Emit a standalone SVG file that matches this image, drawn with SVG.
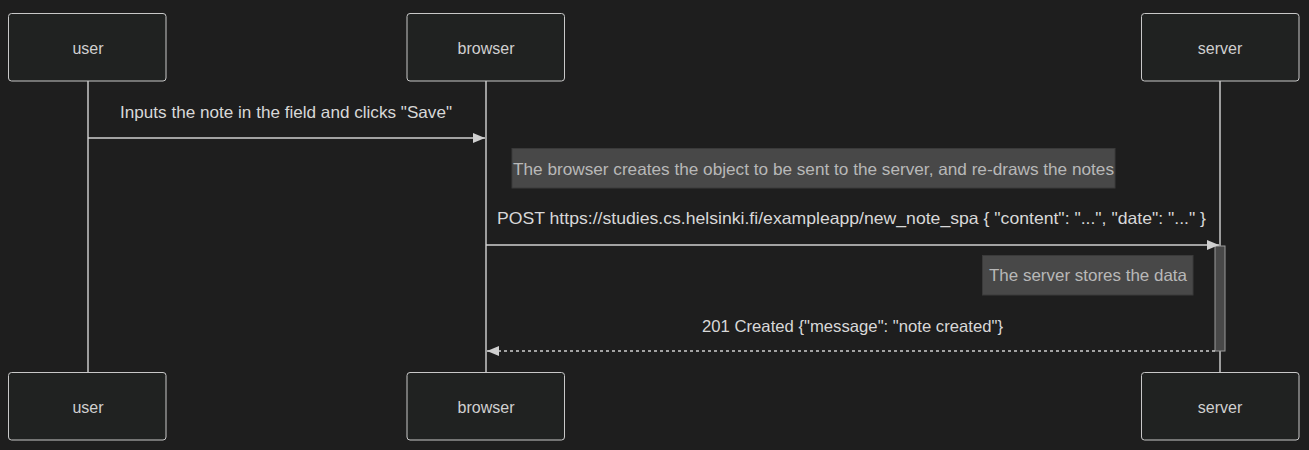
<svg xmlns="http://www.w3.org/2000/svg" width="1309" height="450" viewBox="0 0 1309 450">
<defs>
<style>
.actor{fill:#202221;stroke:#c8c8c8;stroke-width:1}
.atext{fill:#d0d0d0;font-family:"Liberation Sans",Arial,sans-serif;font-size:16px;text-anchor:middle;dominant-baseline:central}
.life{stroke:#c8c8c8;stroke-width:1.5}
.msg{stroke:#d0d0d0;stroke-width:1.5;fill:none}
.mtext{fill:#d8d8d8;font-family:"Liberation Sans",Arial,sans-serif;font-size:16.5px;text-anchor:middle}
.note{fill:#484848;stroke:#3a3a3a;stroke-width:1}
.ntext{fill:#b8b8b8;font-family:"Liberation Sans",Arial,sans-serif;font-size:16.5px;text-anchor:middle;dominant-baseline:central}
</style>
<marker id="arrow" viewBox="0 0 12 10" refX="12" refY="5" markerWidth="12" markerHeight="10" markerUnits="userSpaceOnUse" orient="auto"><path d="M0,0 L12,5 L0,10 z" fill="#d0d0d0"/></marker>
</defs>
<rect width="1309" height="450" fill="#1e1e1e"/>
<g id="lifelines">
<line class="life" x1="88" y1="81" x2="88" y2="372"/>
<line class="life" x1="486" y1="81" x2="486" y2="372"/>
<line class="life" x1="1220" y1="81" x2="1220" y2="372"/>
</g>
<g id="actor-user-top"><rect class="actor" x="8.5" y="13.5" width="157.5" height="67.5" rx="3"/><text class="atext" x="88" y="48">user</text></g>
<g id="actor-browser-top"><rect class="actor" x="407" y="13.5" width="157.5" height="67.5" rx="3"/><text class="atext" x="486" y="48">browser</text></g>
<g id="actor-server-top"><rect class="actor" x="1141.5" y="13.5" width="157.5" height="67.5" rx="3"/><text class="atext" x="1220" y="48">server</text></g>
<g id="actor-user-bottom"><rect class="actor" x="8.5" y="372.5" width="157.5" height="67.5" rx="3"/><text class="atext" x="88" y="407">user</text></g>
<g id="actor-browser-bottom"><rect class="actor" x="407" y="372.5" width="157.5" height="67.5" rx="3"/><text class="atext" x="486" y="407">browser</text></g>
<g id="actor-server-bottom"><rect class="actor" x="1141.5" y="372.5" width="157.5" height="67.5" rx="3"/><text class="atext" x="1220" y="407">server</text></g>
<g id="activation"><rect x="1215" y="246" width="10" height="105" fill="#484848" stroke="#999" stroke-width="1"/></g>
<g id="note-browser"><rect class="note" x="512" y="148.5" width="603" height="39.5"/><text class="ntext" x="813.5" y="169" textLength="601" lengthAdjust="spacingAndGlyphs">The browser creates the object to be sent to the server, and re-draws the notes</text></g>
<g id="note-server"><rect class="note" x="982.5" y="255.5" width="210.5" height="39.5"/><text class="ntext" x="1088" y="275" textLength="198" lengthAdjust="spacingAndGlyphs">The server stores the data</text></g>
<g id="connectors">
<line class="msg" x1="88" y1="138" x2="485" y2="138" marker-end="url(#arrow)"/>
<text class="mtext" x="286" y="118" textLength="332" lengthAdjust="spacingAndGlyphs">Inputs the note in the field and clicks "Save"</text>
<line class="msg" x1="486" y1="245" x2="1219" y2="245" marker-end="url(#arrow)"/>
<text class="mtext" x="851.5" y="224" textLength="709" lengthAdjust="spacingAndGlyphs">POST https://studies.cs.helsinki.fi/exampleapp/new_note_spa { "content": "...", "date": "..." }</text>
<line class="msg" x1="1215" y1="351" x2="487" y2="351" stroke-dasharray="3,3" marker-end="url(#arrow)"/>
<text class="mtext" x="852.5" y="332" textLength="301" lengthAdjust="spacingAndGlyphs">201 Created {"message": "note created"}</text>
</g>
</svg>
